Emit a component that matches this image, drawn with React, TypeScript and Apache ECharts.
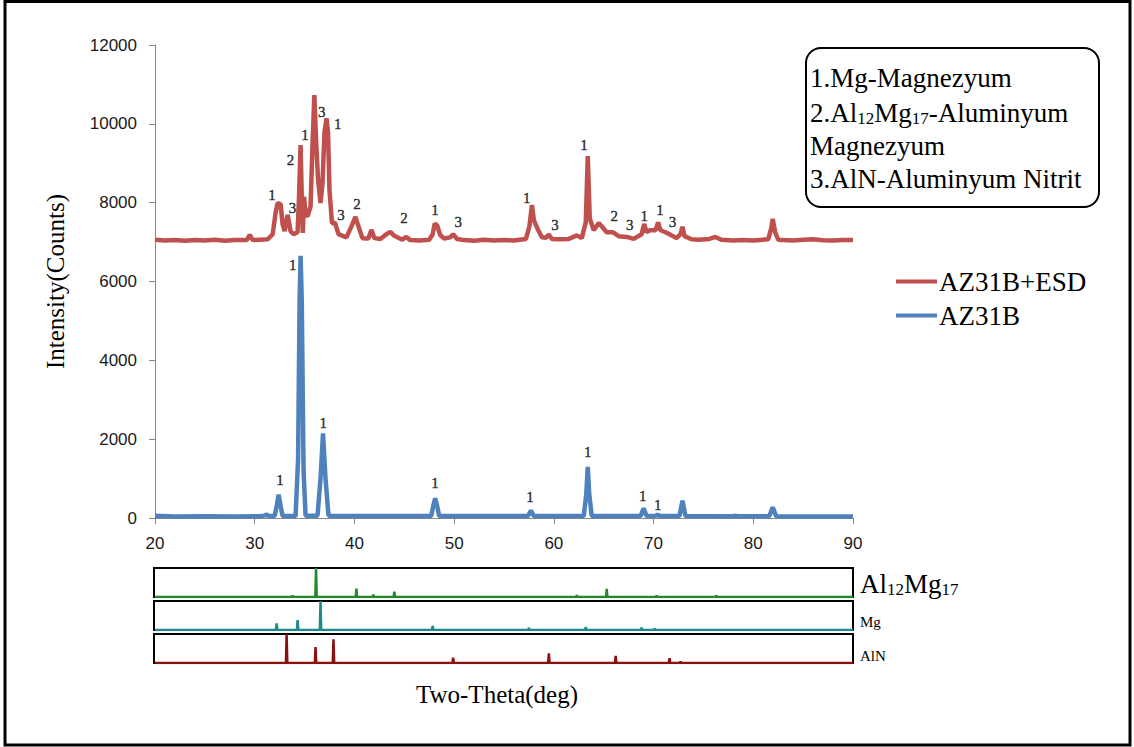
import React, { useEffect, useRef } from "react";
import * as echarts from "echarts";

// ---- data ----
const xTickValues = [20, 30, 40, 50, 60, 70, 80, 90];
const yTickValues = [0, 2000, 4000, 6000, 8000, 10000, 12000];

// AZ31B+ESD pattern: [2θ, counts]
const esdPoints: [number, number][] = [
  [20, 7060], [21, 7040], [22, 7055], [23, 7035], [24, 7050], [25, 7040], [26, 7060], [27, 7035],
  [28, 7055], [29.2, 7050], [29.5, 7180], [29.8, 7050], [30.5, 7060], [31.3, 7070], [31.8, 7200],
  [32.1, 7750], [32.3, 7990], [32.6, 7960], [32.8, 7450], [33.0, 7280], [33.3, 7690], [33.6, 7270],
  [33.9, 7200], [34.3, 7250], [34.45, 8200], [34.6, 9460], [34.75, 7800], [34.82, 7230], [34.95, 8150],
  [35.1, 7700], [35.3, 7650], [35.6, 7900], [35.8, 9500], [35.98, 10730], [36.15, 9600], [36.35, 8600],
  [36.6, 7990], [36.8, 8500], [37.0, 9800], [37.2, 10140], [37.35, 9800], [37.5, 8300], [37.75, 7480],
  [38.05, 7490], [38.4, 7200], [39.2, 7120], [39.7, 7400], [40.1, 7640], [40.4, 7400], [40.8, 7100],
  [41.4, 7090], [41.7, 7310], [42.0, 7100], [42.6, 7080], [43.2, 7200], [43.6, 7260], [44.0, 7160],
  [44.8, 7060], [45.2, 7130], [45.6, 7050], [46.5, 7040], [47.5, 7060], [47.85, 7200], [48.05, 7470],
  [48.3, 7420], [48.6, 7180], [49.0, 7090], [49.6, 7120], [49.9, 7200], [50.3, 7080], [51, 7050],
  [52, 7035], [53, 7060], [54, 7040], [55, 7055], [56, 7040], [57.2, 7080], [57.55, 7400],
  [57.8, 7940], [58.0, 7550], [58.4, 7320], [58.8, 7120], [59.2, 7110], [59.5, 7190], [59.8, 7080],
  [60.5, 7070], [61.5, 7080], [62.3, 7170], [62.8, 7100], [63.2, 7500], [63.4, 9180], [63.6, 7600],
  [64.0, 7300], [64.5, 7480], [64.8, 7400], [65.3, 7250], [65.9, 7250], [66.5, 7150], [67.5, 7120],
  [68.0, 7080], [68.8, 7200], [69.05, 7460], [69.3, 7250], [69.6, 7300], [70.2, 7300], [70.45, 7500],
  [70.7, 7300], [71.2, 7250], [71.6, 7200], [72.3, 7100], [72.7, 7200], [72.9, 7390], [73.1, 7150],
  [73.8, 7070], [74.5, 7060], [75.6, 7080], [76.2, 7130], [76.8, 7060], [78, 7040], [79, 7055],
  [80, 7040], [81.5, 7070], [81.8, 7350], [81.95, 7590], [82.2, 7250], [82.5, 7060], [83, 7050],
  [84, 7040], [85, 7060], [86, 7070], [87, 7045], [88, 7040], [89, 7055], [90, 7050],
];

// AZ31B pattern: [2θ, counts]
const az31bPoints: [number, number][] = [
  [20, 60], [22, 40], [25, 45], [28, 40], [30.5, 45], [31.0, 60], [31.2, 90], [31.4, 50], [32.0, 50],
  [32.2, 300], [32.4, 590], [32.6, 300], [32.8, 50], [34.1, 50], [34.35, 1500], [34.5, 5500],
  [34.6, 6650], [34.72, 5500], [34.9, 1200], [35.1, 60], [36.3, 60], [36.6, 1000], [36.85, 2150],
  [37.1, 1000], [37.4, 60], [47.7, 50], [47.9, 300], [48.1, 500], [48.3, 300], [48.5, 50],
  [57.4, 50], [57.7, 185], [58.0, 50], [63.0, 50], [63.25, 600], [63.4, 1300], [63.55, 600],
  [63.8, 50], [68.7, 50], [69.0, 245], [69.3, 50], [70.1, 50], [70.4, 80], [70.7, 50], [72.6, 50],
  [72.9, 440], [73.2, 50], [78.0, 45], [78.2, 60], [78.4, 45], [81.6, 45], [81.95, 270], [82.3, 45],
  [86, 40], [90, 40],
];

// phase numbers written over the peaks: [2θ, counts, label]
const esdLabels: [number, number, string][] = [
  [31.73, 8172, "1"], [33.78, 7860, "3"], [33.60, 9060, "2"], [35.05, 9700, "1"], [36.72, 10290, "3"],
  [38.32, 9980, "1"], [38.65, 7680, "3"], [40.27, 7944, "2"], [44.97, 7600, "2"], [48.08, 7800, "1"],
  [50.42, 7500, "3"], [57.29, 8100, "1"], [60.12, 7411, "3"], [63.03, 9441, "1"], [66.06, 7640, "2"],
  [67.62, 7411, "3"], [69.07, 7660, "1"], [70.65, 7800, "1"], [71.89, 7490, "3"],
];
const az31bLabels: [number, number, string][] = [
  [33.81, 6396, "1"], [36.88, 2403, "1"], [32.54, 947, "1"], [48.08, 880, "1"],
  [57.61, 525, "1"], [63.40, 1657, "1"], [68.92, 558, "1"], [70.42, 305, "1"],
];

// reference stick patterns: [2θ, relative height %]
const al12mg17Peaks: [number, number][] = [
  [33.8, 5], [36.15, 100], [40.2, 29], [41.9, 8], [44.0, 18], [62.3, 6], [65.3, 28], [70.3, 5], [76.3, 5],
];
const mgPeaks: [number, number][] = [
  [32.2, 23], [34.3, 34], [36.6, 100], [47.85, 14], [57.5, 7], [63.2, 10], [68.8, 8], [70.1, 5],
];
const alnPeaks: [number, number][] = [
  [33.2, 100], [36.1, 55], [37.9, 82], [49.9, 18], [59.5, 33], [66.2, 25], [71.6, 17], [72.7, 5],
];

const seriesNames = ["AZ31B+ESD", "AZ31B"];
const infoLines = [
  "1.Mg-Magnezyum",
  "2.Al{s|12}Mg{s|17}-Aluminyum",
  "Magnezyum",
  "3.AlN-Aluminyum Nitrit",
];

const SERIF = '"Liberation Serif", "Times New Roman", serif';
const SANS = '"Liberation Sans", Arial, sans-serif';

function spikes(peaks: [number, number][]): [number, number][] {
  const d: [number, number][] = [[20, 0]];
  for (const [x, h] of peaks) {
    d.push([x - 0.07, 0], [x, h], [x + 0.07, 0]);
  }
  d.push([90, 0]);
  return d;
}

function labelSeries(name: string, data: [number, number, string][]) {
  return {
    name,
    type: "scatter",
    xAxisIndex: 0,
    yAxisIndex: 0,
    data,
    symbol: "circle",
    symbolSize: 1,
    itemStyle: { color: "rgba(255,255,255,0)" },
    label: {
      show: true,
      position: "top",
      distance: 0,
      verticalAlign: "middle",
      align: "center",
      formatter: (p: any) => p.value[2],
      fontFamily: SERIF,
      fontSize: 15,
      color: "#000000",
      textBorderColor: "#000000",
      textBorderWidth: 0.4,
    },
    emphasis: { disabled: true },
    z: 5,
  };
}

export default function App() {
  const ref = useRef<HTMLDivElement>(null);
  useEffect(() => {
    if (!ref.current) return;
    const chart = echarts.init(ref.current, undefined, { renderer: "svg" });
    const gridL = 155;
    const gridW = 698;
    const panelDefs = [
      { top: 568, peaks: al12mg17Peaks, color: "#23892a", name: "Al12Mg17 ref" },
      { top: 601, peaks: mgPeaks, color: "#1f8a8c", name: "Mg ref" },
      { top: 634, peaks: alnPeaks, color: "#8b1010", name: "AlN ref" },
    ];
    const option: any = {
      animation: false,
      backgroundColor: "#ffffff",
      grid: [
        { left: gridL, top: 45, width: gridW, height: 473 },
        ...panelDefs.map((p) => ({
          left: gridL - 1,
          top: p.top,
          width: gridW + 1,
          height: 29,
          show: true,
          borderColor: "#000",
          borderWidth: 2,
          backgroundColor: "transparent",
        })),
      ],
      xAxis: [
        {
          type: "value",
          gridIndex: 0,
          min: xTickValues[0],
          max: xTickValues[xTickValues.length - 1],
          interval: 10,
          splitLine: { show: false },
          axisLine: { show: true, onZero: false, lineStyle: { color: "#868686", width: 1 } },
          axisTick: { show: true, length: 6, lineStyle: { color: "#868686" } },
          axisLabel: { margin: 17, color: "#1a1a1a", fontFamily: SANS, fontSize: 17 },
        },
        ...panelDefs.map((_, i) => ({
          type: "value",
          gridIndex: i + 1,
          min: 19.9,
          max: 90,
          show: false,
        })),
      ],
      yAxis: [
        {
          type: "value",
          gridIndex: 0,
          min: yTickValues[0],
          max: yTickValues[yTickValues.length - 1],
          interval: 2000,
          name: "Intensity(Counts)",
          nameLocation: "middle",
          nameRotate: 90,
          nameGap: 87,
          nameTextStyle: { fontFamily: SERIF, fontSize: 25, color: "#000" },
          splitLine: { show: false },
          axisLine: { show: true, lineStyle: { color: "#868686", width: 1 } },
          axisTick: { show: true, length: 6, lineStyle: { color: "#868686" } },
          axisLabel: {
            margin: 18,
            color: "#1a1a1a",
            fontFamily: SANS,
            fontSize: 17,
            formatter: (v: number) => String(v),
          },
        },
        ...panelDefs.map((_, i) => ({
          type: "value",
          gridIndex: i + 1,
          min: 0,
          max: 100,
          show: false,
        })),
      ],
      legend: {
        data: seriesNames,
        orient: "vertical",
        left: 891,
        top: 263,
        icon: "rect",
        itemWidth: 41,
        itemHeight: 4,
        itemGap: 7,
        textStyle: { fontFamily: SERIF, fontSize: 27, color: "#000", lineHeight: 22, padding: [0, 0, 0, -3] },
      },
      series: [
        {
          name: seriesNames[0],
          type: "line",
          xAxisIndex: 0,
          yAxisIndex: 0,
          data: esdPoints,
          showSymbol: false,
          lineStyle: { color: "#c0504d", width: 4.5 },
          itemStyle: { color: "#c0504d" },
          z: 3,
        },
        {
          name: seriesNames[1],
          type: "line",
          xAxisIndex: 0,
          yAxisIndex: 0,
          data: az31bPoints,
          showSymbol: false,
          lineStyle: { color: "#4f81bd", width: 4.5 },
          itemStyle: { color: "#4f81bd" },
          z: 3,
        },
        labelSeries("esd-labels", esdLabels),
        labelSeries("az-labels", az31bLabels),
        ...panelDefs.map((p, i) => ({
          name: p.name,
          type: "line",
          xAxisIndex: i + 1,
          yAxisIndex: i + 1,
          data: spikes(p.peaks),
          showSymbol: false,
          lineStyle: { color: p.color, width: 2.5 },
          itemStyle: { color: p.color },
          z: 4,
        })),
      ],
      graphic: [
        {
          type: "rect",
          shape: { x: 5, y: 1.5, width: 1125, height: 743.5 },
          style: { fill: "none", stroke: "#000", lineWidth: 3 },
          silent: true,
        },
        {
          type: "rect",
          shape: { x: 806, y: 48, width: 293, height: 159, r: 15 },
          style: { fill: "#fff", stroke: "#000", lineWidth: 2 },
          z: 10,
        },
        ...infoLines.map((t, i) => ({
          type: "text",
          x: 810,
          y: [78, 113, 146, 179][i],
          z: 11,
          style: {
            text: t,
            font: `27px ${SERIF}`,
            fill: "#000",
            verticalAlign: "middle",
            rich: {
              s: { fontFamily: SERIF, fontSize: 17, verticalAlign: "bottom", fill: "#000" },
            },
          },
        })),
        {
          type: "text",
          x: 860,
          y: 584,
          style: {
            text: "Al{s|12}Mg{s|17}",
            font: `27px ${SERIF}`,
            fill: "#000",
            verticalAlign: "middle",
            rich: { s: { fontFamily: SERIF, fontSize: 17, verticalAlign: "bottom", fill: "#000" } },
          },
        },
        {
          type: "text",
          x: 860,
          y: 622,
          style: { text: "Mg", font: `15px ${SERIF}`, fill: "#000", verticalAlign: "middle" },
        },
        {
          type: "text",
          x: 860,
          y: 656,
          style: { text: "AlN", font: `15px ${SERIF}`, fill: "#000", verticalAlign: "middle" },
        },
        {
          type: "text",
          x: 497,
          y: 694,
          style: {
            text: "Two-Theta(deg)",
            font: `25px ${SERIF}`,
            fill: "#000",
            align: "center",
            verticalAlign: "middle",
          },
        },
      ],
    };
    chart.setOption(option);
    return () => chart.dispose();
  }, []);
  return (
    <div
      ref={ref}
      style={{ position: "absolute", left: 0, top: 0, width: 1134, height: 747 }}
    />
  );
}
